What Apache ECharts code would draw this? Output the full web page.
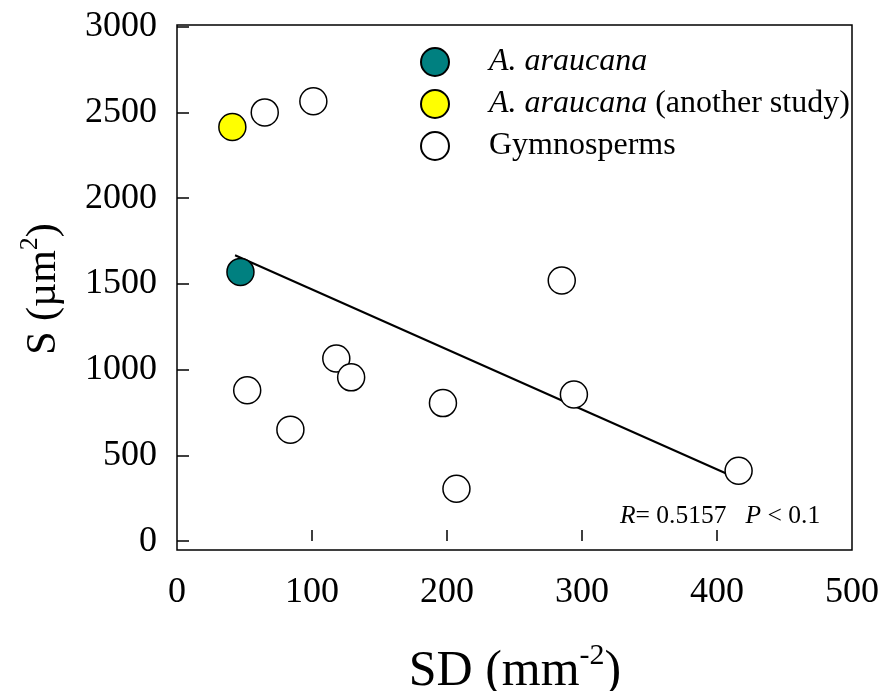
<!DOCTYPE html>
<html>
<head>
<meta charset="utf-8">
<script src="https://cdn.jsdelivr.net/npm/echarts@6/dist/echarts.min.js"></script>
<style>html,body{margin:0;padding:0;background:#fff}#c{width:886px;height:691px}</style>
</head>
<body>
<div id="c"></div>
<script>
// Data
var araucanaX = [47];
var araucanaY = [1570];
var otherStudyX = [41];
var otherStudyY = [2415];
var gymnoX = [65, 101, 52, 84, 118, 129, 197, 207, 285, 294, 416];
var gymnoY = [2500, 2565, 880, 650, 1065, 955, 805, 305, 1520, 855, 410];
var fitX = [43, 416];
var fitY = [1667, 362];
var xTicks = [0, 100, 200, 300, 400, 500];
var yTicks = [0, 500, 1000, 1500, 2000, 2500, 3000];
var seriesNames = ['A. araucana', 'A. araucana (another study)', 'Gymnosperms'];

function pairs(xs, ys) { return xs.map(function (x, i) { return [x, ys[i]]; }); }

var FONT = '"Liberation Serif", "Times New Roman", serif';
var chart = echarts.init(document.getElementById('c'), null, { renderer: 'canvas' });
chart.setOption({
  animation: false,
  backgroundColor: '#fff',
  grid: { left: 177, right: 34, top: 25, bottom: 141, show: true, borderColor: '#000', borderWidth: 1.5, backgroundColor: 'transparent' },
  xAxis: {
    type: 'value', min: 0, max: 500,
    axisLine: { show: false },
    splitLine: { show: false },
    axisTick: { show: true, inside: true, length: 11, lineStyle: { color: '#000', width: 1.5 }, customValues: [100, 200, 300, 400] },
    axisLabel: { customValues: xTicks, margin: 25, color: '#000', fontFamily: FONT, fontSize: 36, formatter: function (v) { return String(v); } }
  },
  yAxis: {
    type: 'value', min: -52, max: 3010,
    axisLine: { show: false },
    splitLine: { show: false },
    axisTick: { show: true, inside: true, length: 12, lineStyle: { color: '#000', width: 1.5 }, customValues: yTicks },
    axisLabel: { customValues: yTicks, margin: 20, color: '#000', fontFamily: FONT, fontSize: 36, formatter: function (v) { return String(v); } }
  },
  legend: {
    data: seriesNames,
    orient: 'vertical',
    left: 415, top: 41,
    itemWidth: 28, itemHeight: 28, itemGap: 10,
    icon: 'circle',
    selectedMode: false,
    textStyle: {
      fontFamily: FONT, fontSize: 32, color: '#000', padding: [0, 0, 0, 35],
      rich: {
        i: { fontFamily: FONT, fontSize: 32, fontStyle: 'italic', color: '#000' },
        n: { fontFamily: FONT, fontSize: 32, color: '#000' }
      }
    },
    formatter: function (name) {
      if (name === seriesNames[0]) return '{i|A. araucana}';
      if (name === seriesNames[1]) return '{i|A. araucana} {n|(another study)}';
      return '{n|' + name + '}';
    }
  },
  series: [
    {
      name: 'fit', type: 'line', data: pairs(fitX, fitY), symbol: 'none',
      lineStyle: { color: '#000', width: 2 }, z: 1, silent: true
    },
    {
      name: seriesNames[2], type: 'scatter', data: pairs(gymnoX, gymnoY), symbolSize: 27,
      itemStyle: { color: '#fff', borderColor: '#000', borderWidth: 1.5, opacity: 1 }, z: 2
    },
    {
      name: seriesNames[0], type: 'scatter', data: pairs(araucanaX, araucanaY), symbolSize: 27,
      itemStyle: { color: '#008080', borderColor: '#000', borderWidth: 1.5, opacity: 1 }, z: 3
    },
    {
      name: seriesNames[1], type: 'scatter', data: pairs(otherStudyX, otherStudyY), symbolSize: 27,
      itemStyle: { color: '#ffff00', borderColor: '#000', borderWidth: 1.5, opacity: 1 }, z: 3
    }
  ],
  graphic: [
    {
      type: 'text', left: 620, top: 503,
      style: {
        text: '{i|R}{n|= 0.5157   }{i|P}{n| < 0.1}',
        fill: '#000',
        rich: {
          i: { fontFamily: FONT, fontSize: 25.5, fontStyle: 'italic', fill: '#000' },
          n: { fontFamily: FONT, fontSize: 25.5, fill: '#000' }
        }
      }
    },
    {
      type: 'text', x: 515, y: 669,
      style: {
        text: '{n|SD (mm}{s|-2}{n|)}',
        align: 'center', verticalAlign: 'middle',
        rich: {
          n: { fontFamily: FONT, fontSize: 50, fill: '#000', verticalAlign: 'bottom', lineHeight: 56 },
          s: { fontFamily: FONT, fontSize: 30, fill: '#000', verticalAlign: 'top', lineHeight: 56, padding: [0, 0, 20, 0] }
        }
      }
    },
    {
      type: 'text', x: 41, y: 289, rotation: Math.PI / 2,
      style: {
        text: '{n|S (µm}{s|2}{n|)}',
        align: 'center', verticalAlign: 'middle',
        rich: {
          n: { fontFamily: FONT, fontSize: 42, fill: '#000', verticalAlign: 'bottom', lineHeight: 48 },
          s: { fontFamily: FONT, fontSize: 26, fill: '#000', verticalAlign: 'top', lineHeight: 48, padding: [0, 0, 16, 0] }
        }
      }
    }
  ]
});
</script>
</body>
</html>
